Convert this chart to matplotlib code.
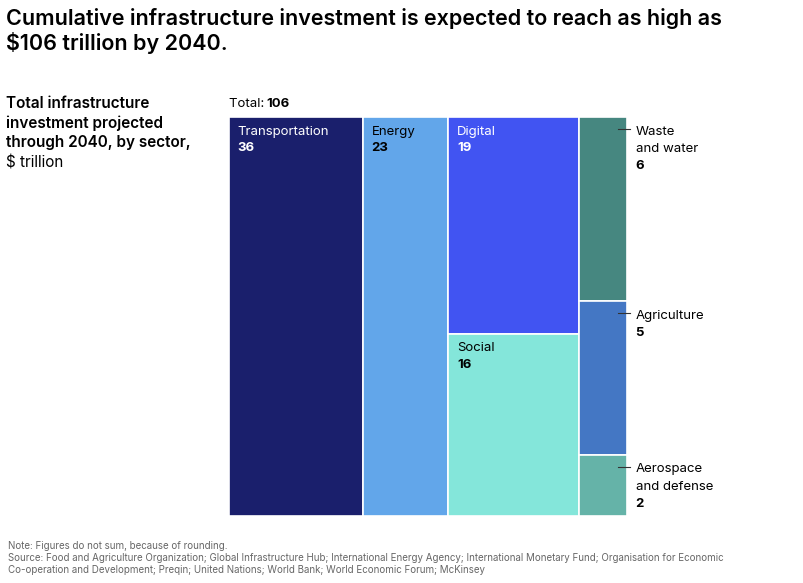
import matplotlib
matplotlib.use("Agg")
import matplotlib.pyplot as plt
from matplotlib.patches import Rectangle

plt.rcParams['font.family'] = ['Inter', 'DejaVu Sans']

# columns of the treemap, each a list of (label, value)
columns = [
    [("Transportation", 36)],
    [("Energy", 23)],
    [("Digital", 19), ("Social", 16)],
    [("Waste\nand water", 6), ("Agriculture", 5), ("Aerospace\nand defense", 2)],
]
colors = {
    "Transportation": "#1a1f6c",
    "Energy": "#62a6ea",
    "Digital": "#4154f2",
    "Social": "#84e6da",
    "Waste\nand water": "#468780",
    "Agriculture": "#4477c4",
    "Aerospace\nand defense": "#65b3a8",
}
dark_text = {"Energy", "Social"}
total = 106

W, H = 804, 583
fig = plt.figure(figsize=(W / 100, H / 100), dpi=100)

# treemap axes in pixel box 229..627 x 117..516
ax = fig.add_axes([229 / W, 1 - 516 / H, (627 - 229) / W, (516 - 117) / H])
col_totals = [sum(v for _, v in c) for c in columns]
xscale = sum(col_totals)
ax.set_xlim(0, xscale)
ax.set_ylim(1, 0)
ax.axis("off")

x = 0
for ci, col in enumerate(columns):
    cw = col_totals[ci]
    y = 0
    for label, v in col:
        h = v / cw
        ax.add_patch(Rectangle((x, y), cw, h, facecolor=colors[label],
                               edgecolor="white", linewidth=1.2))
        if ci < 3:
            tc = "black" if label in dark_text else "white"
            ax.text(x + 2.3, y + 0.037, label, color=tc, fontsize=9.5,
                    va="center", ha="left")
            ax.text(x + 2.3, y + 0.078, str(v), color=tc, fontsize=9.5,
                    fontweight="bold", va="center", ha="left")
        else:
            ax.plot([x + cw - 2.5, x + cw + 0.8], [y + 0.03, y + 0.03],
                    color="#333333", lw=0.8, clip_on=False)
            lines = label.split("\n") + [str(v)]
            for li, t in enumerate(lines):
                ax.text(x + cw + 2.3, y + 0.037 + 0.043 * li, t, color="black",
                        fontsize=9.5, va="center", ha="left",
                        fontweight="bold" if li == len(lines) - 1 else "normal")
        y += h
    x += cw

fig.text(229 / W, 1 - 104 / H, "Total: ", fontsize=9.5, va="center", ha="left")
fig.text(266 / W, 1 - 104 / H, str(total), fontsize=9.5, fontweight="bold",
         va="center", ha="left")

fig.text(6 / W, 1 - 8 / H,
         "Cumulative infrastructure investment is expected to reach as high as\n$106 trillion by 2040.",
         fontsize=15.5, fontweight="semibold", va="top", ha="left", linespacing=1.15)
sub = ["Total infrastructure", "investment projected", "through 2040, by sector,"]
for i, t in enumerate(sub):
    fig.text(6 / W, 1 - (103 + 20 * i) / H, t, fontsize=11,
             fontweight="semibold", va="center", ha="left")
fig.text(6 / W, 1 - 163 / H, "$ trillion", fontsize=11, va="center", ha="left")

fig.text(8 / W, 1 - 541 / H,
         "Note: Figures do not sum, because of rounding.\n"
         "Source: Food and Agriculture Organization; Global Infrastructure Hub; International Energy Agency; International Monetary Fund; Organisation for Economic\n"
         "Co-operation and Development; Preqin; United Nations; World Bank; World Economic Forum; McKinsey",
         fontsize=7, color="#666666", va="top", ha="left", linespacing=1.25)

fig.savefig("out.png", dpi=100, facecolor="white")
